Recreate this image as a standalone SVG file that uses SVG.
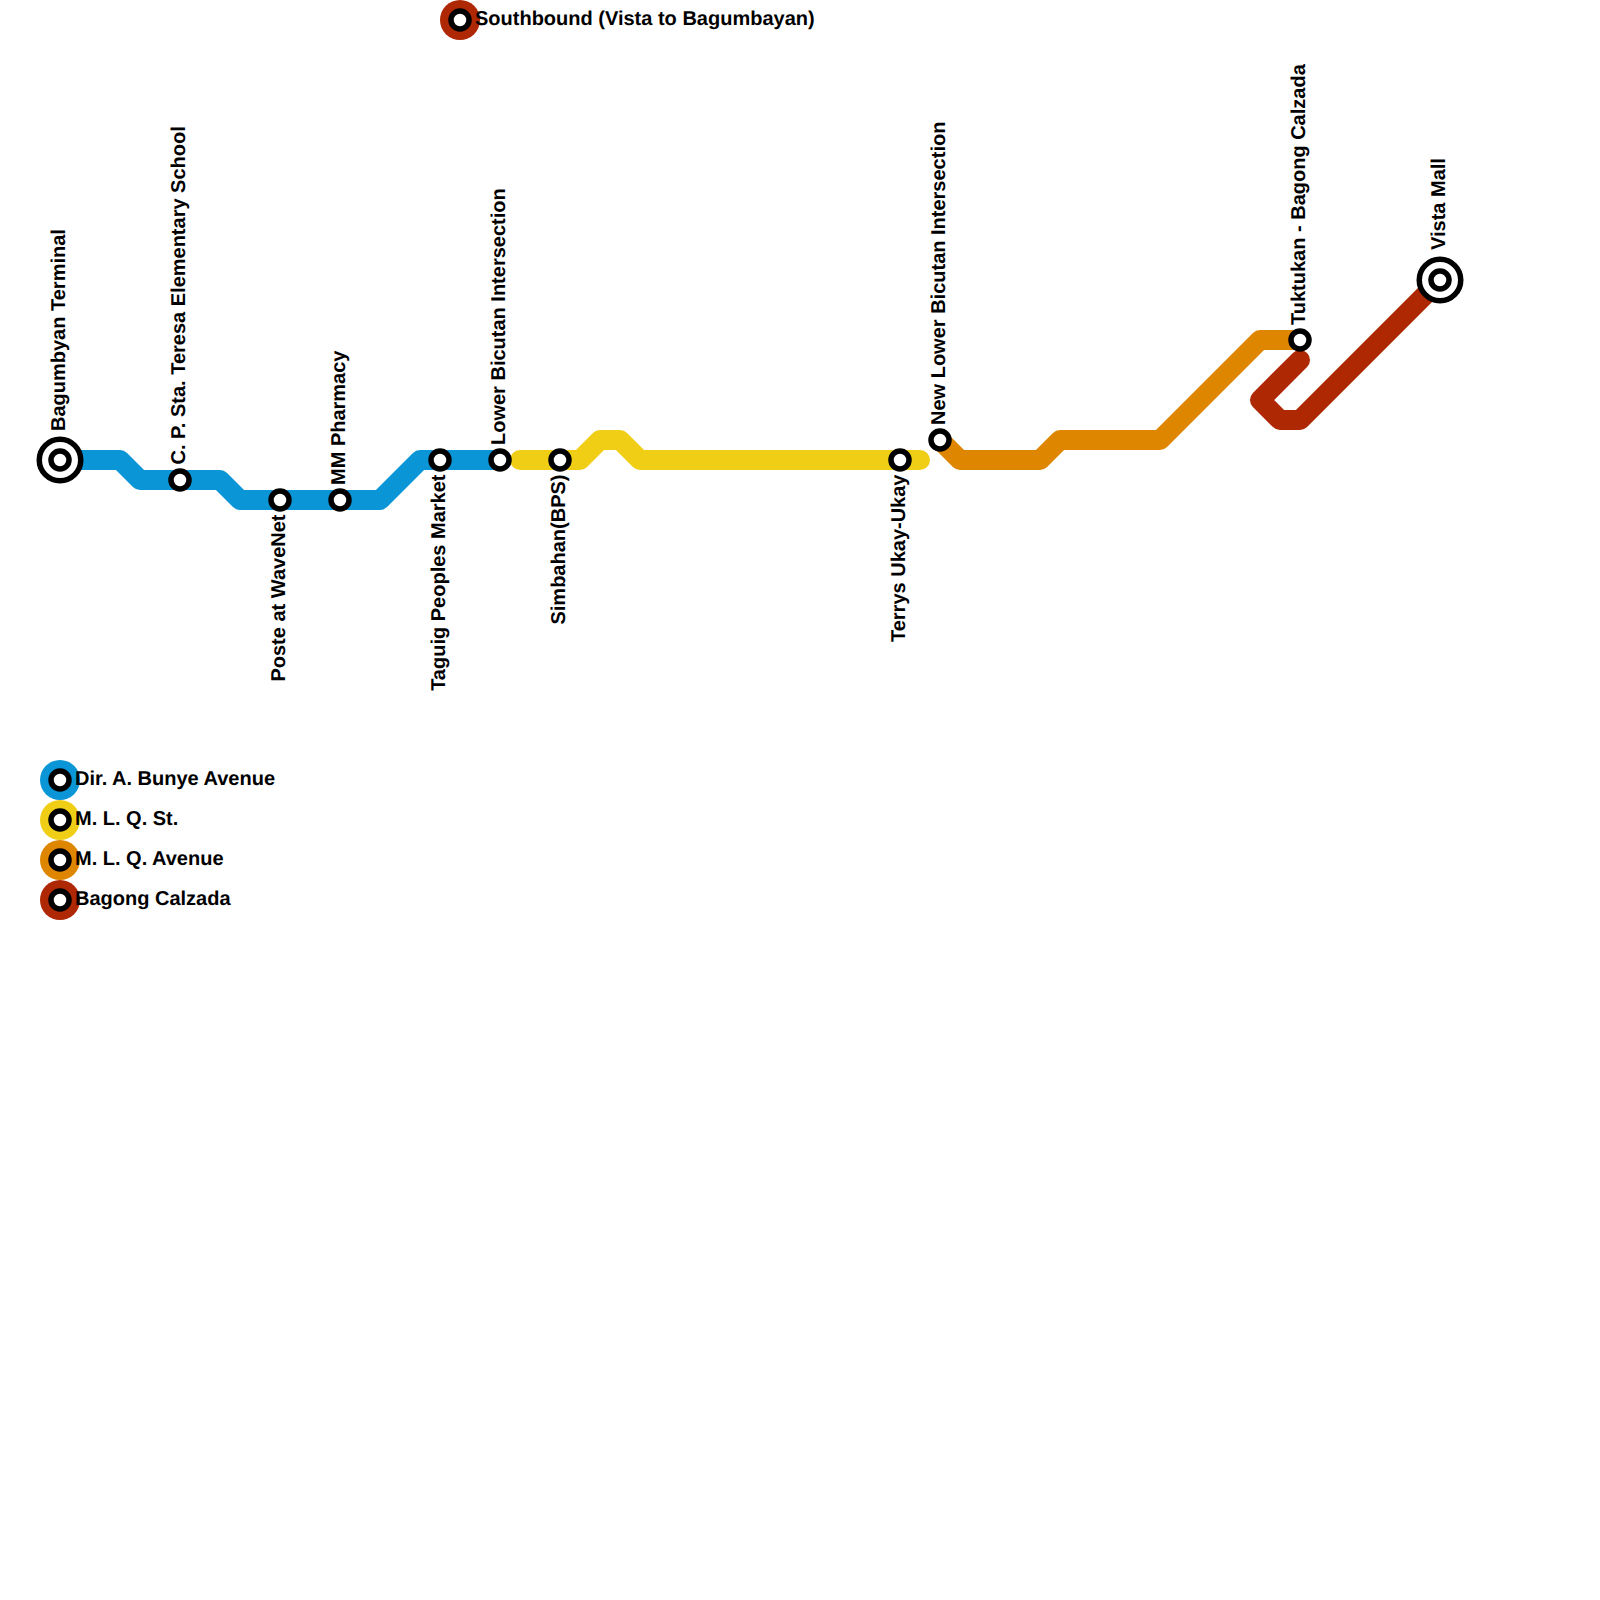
<svg xmlns="http://www.w3.org/2000/svg" width="1600" height="1600" viewBox="0 0 1600 1600">
<style>
.l{fill:none;stroke-width:20;stroke-linecap:round;stroke-linejoin:round}
.s{fill:#fff;stroke:#000;stroke-width:5.5}
.t{font-family:"Liberation Sans",Arial,sans-serif;font-weight:700;font-size:20px;fill:#000;text-rendering:geometricPrecision}
.e{text-anchor:end}
</style>
<rect width="1600" height="1600" fill="#fff"/>
<g id="connectors">
<path class="l" stroke="#0a96d6" d="M60 460H120L140 480H220L240 500H380L420 460H500"/>
<path class="l" stroke="#f0ce15" d="M520 460H580L600 440H620L640 460H920"/>
<path class="l" stroke="#df8600" d="M940 440L960 460H1040L1060 440H1160L1260 340H1300"/>
<path class="l" stroke="#ae2803" d="M1440 280L1300 420H1280L1260 400L1300 360"/>
</g>
<g id="n-bagumbayan"><circle class="s" cx="60" cy="460" r="20.75"/><circle class="s" cx="60" cy="460" r="9"/><text class="t" transform="translate(64.5 431) rotate(-90)">Bagumbyan Terminal</text></g>
<g id="n-cp"><circle class="s" cx="180" cy="480" r="9"/><text class="t" transform="translate(184.5 464.5) rotate(-90)">C. P. Sta. Teresa Elementary School</text></g>
<g id="n-poste"><circle class="s" cx="280" cy="500" r="9"/><text class="t e" transform="translate(284.5 514.5) rotate(-90)">Poste at WaveNet</text></g>
<g id="n-mm"><circle class="s" cx="340" cy="500" r="9"/><text class="t" transform="translate(344.5 485) rotate(-90)">MM Pharmacy</text></g>
<g id="n-taguig"><circle class="s" cx="440" cy="460" r="9"/><text class="t e" transform="translate(444.5 474.5) rotate(-90)">Taguig Peoples Market</text></g>
<g id="n-lower"><circle class="s" cx="500" cy="460" r="9"/><text class="t" transform="translate(504.5 445) rotate(-90)">Lower Bicutan Intersection</text></g>
<g id="n-simbahan"><circle class="s" cx="560" cy="460" r="9"/><text class="t e" transform="translate(564.5 474.5) rotate(-90)">Simbahan(BPS)</text></g>
<g id="n-terrys"><circle class="s" cx="900" cy="460" r="9"/><text class="t e" transform="translate(904.5 474.5) rotate(-90)">Terrys Ukay-Ukay</text></g>
<g id="n-new"><circle class="s" cx="940" cy="440" r="9"/><text class="t" transform="translate(944.5 425) rotate(-90)">New Lower Bicutan Intersection</text></g>
<g id="n-tuktukan"><circle class="s" cx="1300" cy="340" r="9"/><text class="t" transform="translate(1304.5 325) rotate(-90)">Tuktukan - Bagong Calzada</text></g>
<g id="n-vista"><circle class="s" cx="1440" cy="280" r="20.75"/><circle class="s" cx="1440" cy="280" r="9"/><text class="t" transform="translate(1444.5 250) rotate(-90)">Vista Mall</text></g>
<g id="key-south"><circle cx="460" cy="20" r="20" fill="#ae2803"/><circle class="s" cx="460" cy="20" r="9"/><text class="t" x="475" y="25">Southbound (Vista to Bagumbayan)</text></g>
<g id="key-blue"><circle cx="60" cy="780" r="20" fill="#0a96d6"/><circle class="s" cx="60" cy="780" r="9"/><text class="t" x="75" y="785">Dir. A. Bunye Avenue</text></g>
<g id="key-yellow"><circle cx="60" cy="820" r="20" fill="#f0ce15"/><circle class="s" cx="60" cy="820" r="9"/><text class="t" x="75" y="825">M. L. Q. St.</text></g>
<g id="key-orange"><circle cx="60" cy="860" r="20" fill="#df8600"/><circle class="s" cx="60" cy="860" r="9"/><text class="t" x="75" y="865">M. L. Q. Avenue</text></g>
<g id="key-red"><circle cx="60" cy="900" r="20" fill="#ae2803"/><circle class="s" cx="60" cy="900" r="9"/><text class="t" x="75" y="905">Bagong Calzada</text></g>
</svg>
